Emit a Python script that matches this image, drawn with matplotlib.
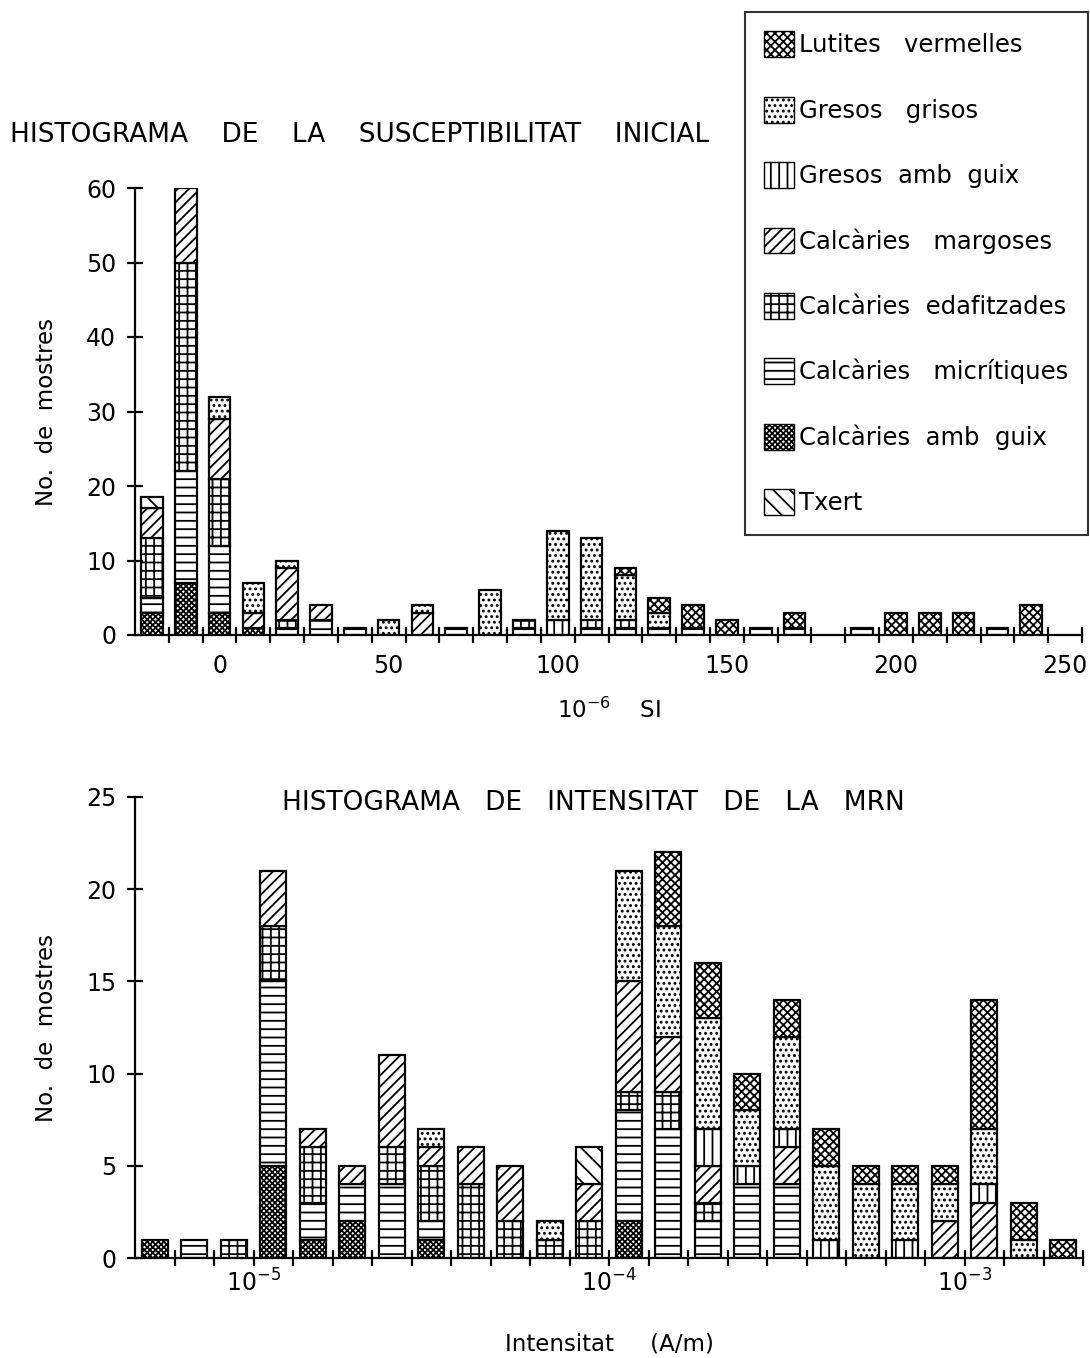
import numpy as np
import matplotlib
matplotlib.use("Agg")
import matplotlib.pyplot as plt
from matplotlib.patches import Patch
from matplotlib.ticker import FixedLocator, NullFormatter, FixedFormatter

plt.rcParams['font.family'] = ['DejaVu Sans']
plt.rcParams['hatch.linewidth'] = 1.3

# ---- data: susceptibilitat inicial (10^-6 SI), bins of 10 ----
susc_bins = [-20, -10, 0, 10, 20, 30, 40, 50, 60, 70, 80, 90, 100, 110, 120,
             130, 140, 150, 160, 170, 180, 190, 200, 210, 220, 230, 240]
s_calc_guix = [3, 7, 3, 1, 0, 0, 0, 0, 0, 0, 0, 0, 0, 0, 0, 0, 0, 0, 0, 0, 0, 0, 0, 0, 0, 0, 0]
s_calc_micr = [2, 15, 9, 0, 1, 2, 1, 0, 0, 1, 0, 1, 0, 1, 1, 1, 1, 0, 1, 1, 0, 1, 0, 0, 0, 1, 0]
s_calc_edaf = [8, 28, 9, 0, 1, 0, 0, 0, 0, 0, 0, 1, 0, 0, 0, 0, 0, 0, 0, 0, 0, 0, 0, 0, 0, 0, 0]
s_calc_marg = [4, 10, 8, 2, 7, 2, 0, 0, 3, 0, 0, 0, 0, 0, 0, 0, 0, 0, 0, 0, 0, 0, 0, 0, 0, 0, 0]
s_gres_guix = [0, 0, 0, 0, 0, 0, 0, 0, 0, 0, 0, 0, 2, 1, 1, 0, 0, 0, 0, 0, 0, 0, 0, 0, 0, 0, 0]
s_gres_gris = [0, 0, 3, 4, 1, 0, 0, 2, 1, 0, 6, 0, 12, 11, 6, 2, 0, 0, 0, 0, 0, 0, 0, 0, 0, 0, 0]
s_lutites   = [0, 0, 0, 0, 0, 0, 0, 0, 0, 0, 0, 0, 0, 0, 1, 2, 3, 2, 0, 2, 0, 0, 3, 3, 3, 0, 4]
s_txert     = [1.5, 0, 0, 0, 0, 0, 0, 0, 0, 0, 0, 0, 0, 0, 0, 0, 0, 0, 0, 0, 0, 0, 0, 0, 0, 0, 0]
susc_labels = [0, 50, 100, 150, 200, 250]

# ---- data: intensitat MRN (A/m), 9 bins per decade, index 3 starts at 1e-5 ----
n_mrn = 24
m_calc_guix = [1, 0, 0, 5, 1, 2, 0, 1, 0, 0, 0, 0, 2, 0, 0, 0, 0, 0, 0, 0, 0, 0, 0, 0]
m_calc_micr = [0, 1, 0, 10, 2, 2, 4, 1, 0, 0, 0, 0, 6, 7, 2, 4, 4, 0, 0, 0, 0, 0, 0, 0]
m_calc_edaf = [0, 0, 1, 3, 3, 0, 2, 3, 4, 2, 1, 2, 1, 2, 1, 0, 0, 0, 0, 0, 0, 0, 0, 0]
m_calc_marg = [0, 0, 0, 3, 1, 1, 5, 1, 2, 3, 0, 2, 6, 3, 2, 0, 2, 0, 0, 0, 2, 3, 0, 0]
m_gres_guix = [0, 0, 0, 0, 0, 0, 0, 0, 0, 0, 0, 0, 0, 0, 2, 1, 1, 1, 0, 1, 0, 1, 0, 0]
m_gres_gris = [0, 0, 0, 0, 0, 0, 0, 1, 0, 0, 1, 0, 6, 6, 6, 3, 5, 4, 4, 3, 2, 3, 1, 0]
m_lutites   = [0, 0, 0, 0, 0, 0, 0, 0, 0, 0, 0, 0, 0, 4, 3, 2, 2, 2, 1, 1, 1, 7, 2, 1]
m_txert     = [0, 0, 0, 0, 0, 0, 0, 0, 0, 0, 0, 2, 0, 0, 0, 0, 0, 0, 0, 0, 0, 0, 0, 0]
mrn_labels = [1e-5, 1e-4, 1e-3]

names = ["Calcàries  amb  guix", "Calcàries   micrítiques", "Calcàries  edafitzades",
         "Calcàries   margoses", "Gresos  amb  guix", "Gresos   grisos",
         "Lutites   vermelles", "Txert"]
hatches = ["xxxxxx", "--", "++", "///", "||", "...", "xxxx", "\\\\"]

susc_series = [s_calc_guix, s_calc_micr, s_calc_edaf, s_calc_marg,
               s_gres_guix, s_gres_gris, s_lutites, s_txert]
mrn_series = [m_calc_guix, m_calc_micr, m_calc_edaf, m_calc_marg,
              m_gres_guix, m_gres_gris, m_lutites, m_txert]

W, H = 1090, 1358
fig = plt.figure(figsize=(W / 100, H / 100), dpi=100)

def style_axes(ax):
    for s in ("top", "right"):
        ax.spines[s].set_visible(False)
    for s in ("left", "bottom"):
        ax.spines[s].set_linewidth(1.6)
    ax.tick_params(which="major", direction="inout", length=11, width=1.6,
                   labelsize=17, pad=8)
    ax.tick_params(axis="x", which="minor", length=0, labelsize=17, pad=14)
    ax.set_ylabel("No.  de  mostres", fontsize=16.5, labelpad=20)

# ---- top chart ----
ax1 = fig.add_axes([135 / W, 1 - 635 / H, 947 / W, 447 / H])
bottom = np.zeros(len(susc_bins))
x1 = np.array(susc_bins, dtype=float)
for vals, h in zip(susc_series, hatches):
    v = np.array(vals, dtype=float)
    nz = v > 0
    ax1.bar(x1[nz], v[nz], width=6.4, bottom=bottom[nz], color="white",
            edgecolor="black", linewidth=1.6, hatch=h)
    bottom += v
ax1.set_xlim(-25, 255)
ax1.set_ylim(0, 60)
ax1.set_yticks(range(0, 61, 10))
ax1.xaxis.set_major_locator(FixedLocator(np.arange(-15, 256, 10)))
ax1.xaxis.set_major_formatter(NullFormatter())
ax1.xaxis.set_minor_locator(FixedLocator(susc_labels))
ax1.xaxis.set_minor_formatter(FixedFormatter([str(v) for v in susc_labels]))
style_axes(ax1)
ax1.set_xlabel("$10^{-6}$    SI", fontsize=16.5, labelpad=14)

fig.text(10 / W, 1 - 135 / H, "HISTOGRAMA    DE    LA    SUSCEPTIBILITAT    INICIAL",
         fontsize=19, va="center", ha="left",
         family=["Liberation Sans Narrow", "DejaVu Sans"])

# ---- bottom chart ----
ax2 = fig.add_axes([135 / W, 1 - 1258 / H, 948 / W, 461 / H])
idx = np.arange(n_mrn)
c_log = -5 + (idx - 2.5) / 9
left = 10 ** (c_log - 0.65 / 18)
right = 10 ** (c_log + 0.65 / 18)
bottom = np.zeros(n_mrn)
for vals, h in zip(mrn_series, hatches):
    v = np.array(vals, dtype=float)
    nz = v > 0
    ax2.bar(left[nz], v[nz], width=(right - left)[nz], align="edge", bottom=bottom[nz],
            color="white", edgecolor="black", linewidth=1.6, hatch=h)
    bottom += v
ax2.set_xscale("log")
ax2.set_xlim(10 ** (-5 - 3 / 9), 10 ** (-5 + 21 / 9))
ax2.set_ylim(0, 25)
ax2.set_yticks(range(0, 26, 5))
edges = 10 ** (-5 + np.arange(-2, 22) / 9)
ax2.xaxis.remove_overlapping_locs = False
ax2.xaxis.set_major_locator(FixedLocator(edges))
ax2.xaxis.set_major_formatter(NullFormatter())
ax2.xaxis.set_minor_locator(FixedLocator(mrn_labels))
ax2.xaxis.set_minor_formatter(FixedFormatter(["$10^{-5}$", "$10^{-4}$", "$10^{-3}$"]))
style_axes(ax2)
ax2.tick_params(axis="x", which="minor", pad=8)
ax2.set_xlabel("Intensitat     (A/m)", fontsize=16.5, labelpad=26)
ax2.text(0.484, 1 - 6 / 461, "HISTOGRAMA   DE   INTENSITAT   DE   LA   MRN",
         transform=ax2.transAxes, fontsize=19, ha="center", va="center",
         family=["Liberation Sans Narrow", "DejaVu Sans"])

# ---- legend ----
order = [6, 5, 4, 3, 2, 1, 0, 7]
handles = [Patch(facecolor="white", edgecolor="black", hatch=hatches[i]) for i in order]
labels = [names[i] for i in order]
leg = fig.legend(handles, labels, loc="upper right", bbox_to_anchor=(1088 / W, 1 - 12 / H),
                 fontsize=17.5, frameon=True, fancybox=False, edgecolor="black",
                 handlelength=1.25, handleheight=1.25, handletextpad=0.2,
                 labelspacing=1.62, borderpad=0.8, borderaxespad=0)
leg.get_frame().set_linewidth(1.5)

fig.savefig("out.png", dpi=100, facecolor="white")
